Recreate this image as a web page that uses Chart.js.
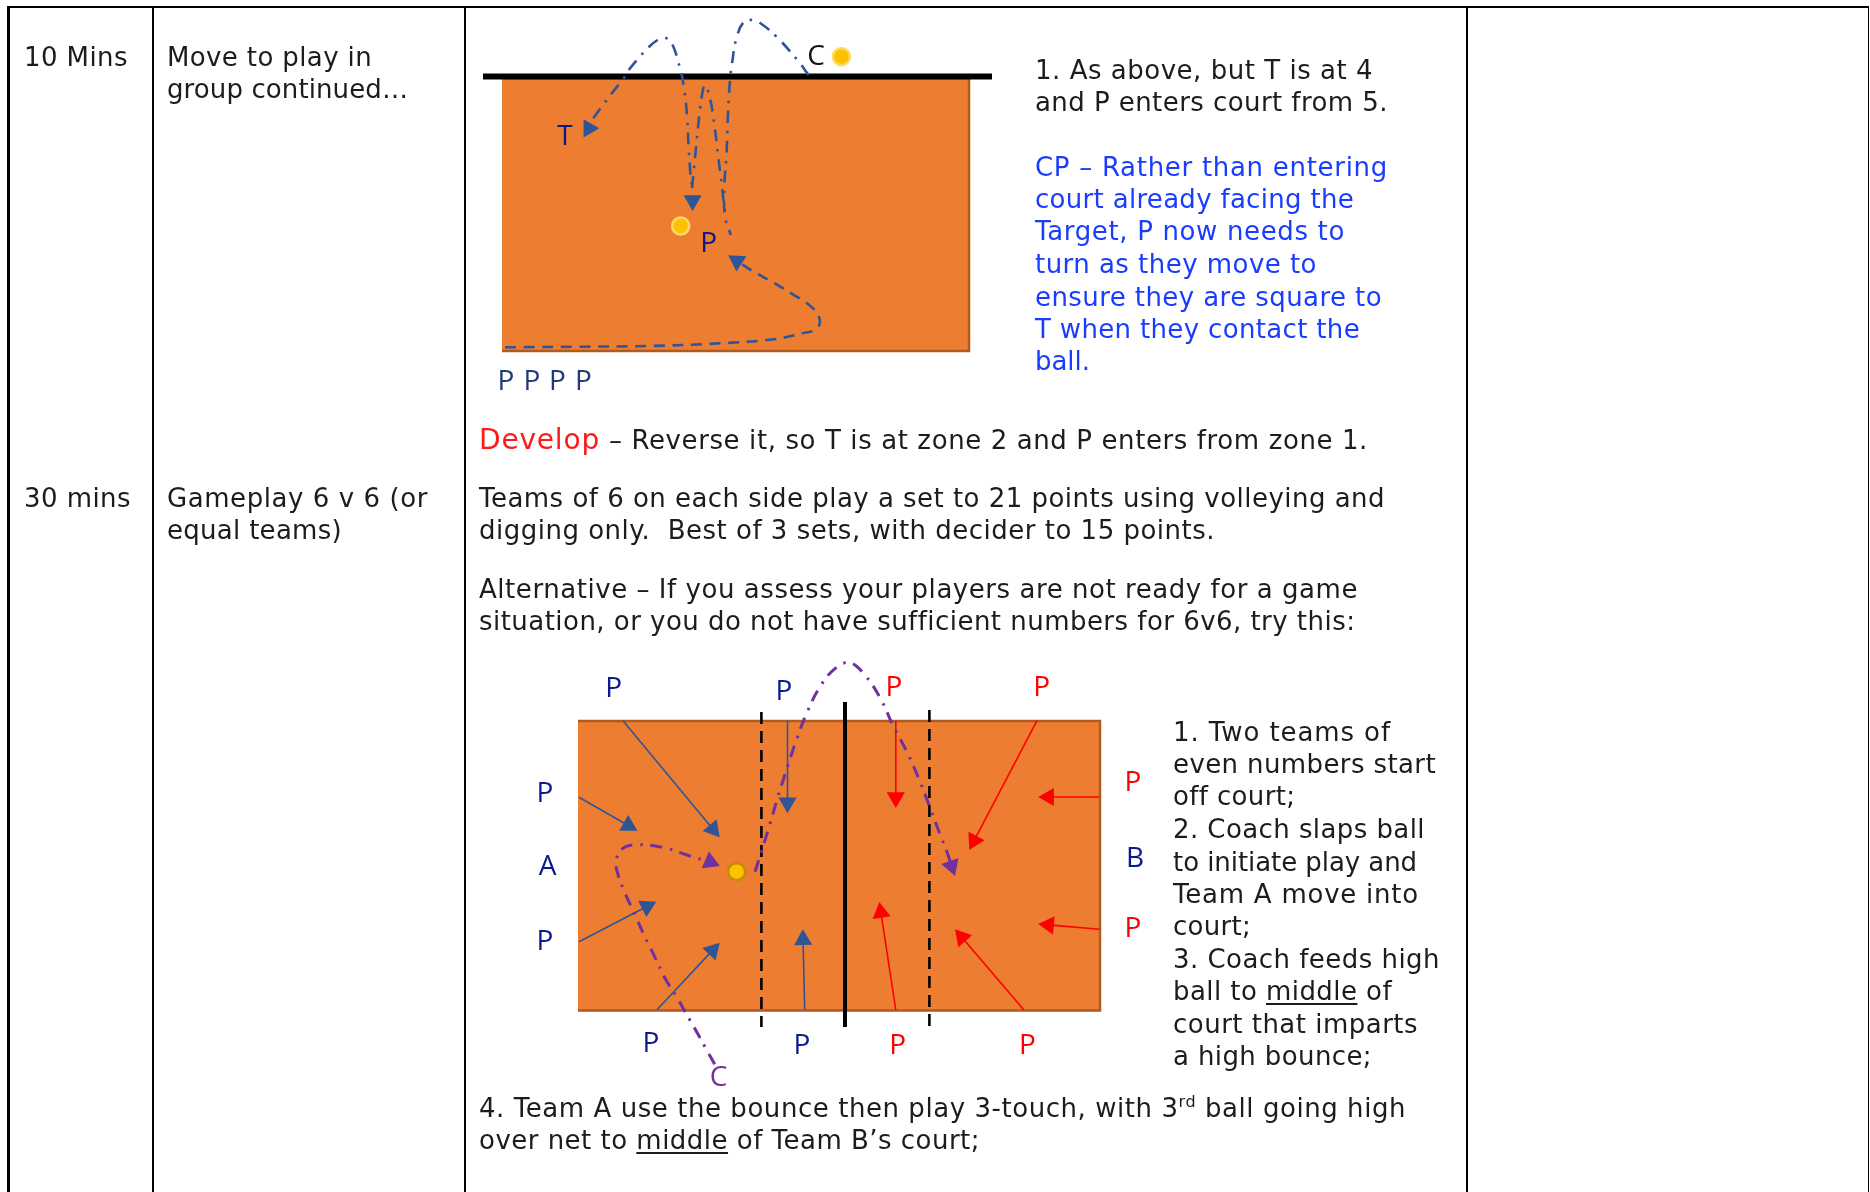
<!DOCTYPE html>
<html>
<head>
<meta charset="utf-8">
<title>Move to play</title>
<script src="https://cdn.jsdelivr.net/npm/chart.js@4"></script>
<style>
  html, body { margin: 0; background: #fff; overflow: hidden; }
  #page { position: relative; width: 1870px; height: 1192px; }
  canvas { position: absolute; left: 0; top: 0; }
  .t { position: absolute; font: 26px/32px "DejaVu Sans", Verdana, sans-serif; color: #1c1c1c; white-space: pre; }
  .cp { color: #1a3cff; }
  .red { color: #ff1a1a; font-size: 28px; }
  .rule { position: absolute; background: #000; }
  u { text-underline-offset: 3px; }
  sup { font-size: 16px; line-height: 0; }
</style>
</head>
<body>
<div id="page">
  <canvas id="court" width="1870" height="1192"></canvas>

  <div class="rule" style="left:7px;top:6px;width:1862px;height:2px"></div>
  <div class="rule" style="left:7px;top:6px;width:3px;height:1186px"></div>
  <div class="rule" style="left:152px;top:6px;width:2px;height:1186px"></div>
  <div class="rule" style="left:464px;top:6px;width:2px;height:1186px"></div>
  <div class="rule" style="left:1466px;top:6px;width:2px;height:1186px"></div>
  <div class="rule" style="left:1868px;top:6px;width:1px;height:1186px"></div>

  <div class="t" data-right="128" style="left:24px;top:41px">10 Mins</div>
  <div class="t" data-right="372" style="left:167px;top:41px">Move to play in</div>
  <div class="t" data-right="408" style="left:167px;top:73px">group continued…</div>

  <div class="t" data-right="1373" style="left:1035px;top:54px">1. As above, but T is at 4</div>
  <div class="t" data-right="1388" style="left:1035px;top:86px">and P enters court from 5.</div>
  <div class="t cp" data-right="1388" style="left:1035px;top:151px">CP – Rather than entering</div>
  <div class="t cp" data-right="1354" style="left:1035px;top:183px">court already facing the</div>
  <div class="t cp" data-right="1345" style="left:1035px;top:215px">Target, P now needs to</div>
  <div class="t cp" data-right="1317" style="left:1035px;top:248px">turn as they move to</div>
  <div class="t cp" data-right="1382" style="left:1035px;top:281px">ensure they are square to</div>
  <div class="t cp" data-right="1360" style="left:1035px;top:313px">T when they contact the</div>
  <div class="t cp" data-right="1090" style="left:1035px;top:345px">ball.</div>

  <div class="t red" data-right="600" style="left:479px;top:424px">Develop</div>
  <div class="t" data-right="1368" style="left:609px;top:424px">– Reverse it, so T is at zone 2 and P enters from zone 1.</div>

  <div class="t" data-right="131" style="left:24px;top:482px">30 mins</div>
  <div class="t" data-right="428" style="left:167px;top:482px">Gameplay 6 v 6 (or</div>
  <div class="t" data-right="342" style="left:167px;top:514px">equal teams)</div>

  <div class="t" data-right="1385" style="left:479px;top:482px">Teams of 6 on each side play a set to 21 points using volleying and</div>
  <div class="t" data-right="1215" style="left:479px;top:514px">digging only.  Best of 3 sets, with decider to 15 points.</div>
  <div class="t" data-right="1358" style="left:479px;top:573px">Alternative – If you assess your players are not ready for a game</div>
  <div class="t" data-right="1355" style="left:479px;top:605px">situation, or you do not have sufficient numbers for 6v6, try this:</div>

  <div class="t" data-right="1391" style="left:1173px;top:716px">1. Two teams of</div>
  <div class="t" data-right="1436" style="left:1173px;top:748px">even numbers start</div>
  <div class="t" data-right="1295" style="left:1173px;top:780px">off court;</div>
  <div class="t" data-right="1425" style="left:1173px;top:813px">2. Coach slaps ball</div>
  <div class="t" data-right="1417" style="left:1173px;top:846px">to initiate play and</div>
  <div class="t" data-right="1419" style="left:1173px;top:878px">Team A move into</div>
  <div class="t" data-right="1251" style="left:1173px;top:910px">court;</div>
  <div class="t" data-right="1440" style="left:1173px;top:943px">3. Coach feeds high</div>
  <div class="t" data-right="1392" style="left:1173px;top:975px">ball to <u>middle</u> of</div>
  <div class="t" data-right="1418" style="left:1173px;top:1008px">court that imparts</div>
  <div class="t" data-right="1372" style="left:1173px;top:1040px">a high bounce;</div>

  <div class="t" data-right="1406" style="left:479px;top:1092px">4. Team A use the bounce then play 3-touch, with 3<sup>rd</sup> ball going high</div>
  <div class="t" data-right="980" style="left:479px;top:1124px">over net to <u>middle</u> of Team B’s court;</div>
</div>

<script>
// upper court: outline, net, ball paths, all in page pixels
const courtOne = [[502, 78], [969, 78], [969, 351], [502, 351]];
const netOne = [[483, 76.5], [992, 76.5]];
const pathToCoach = [[808.6, 75], [796.8, 59.3], [777.1, 37.3], [762.9, 25], [752.9, 20], [743.2, 22.7], [736, 40], [732.5, 60], [730, 80], [727.9, 116.7], [726.4, 156.7], [724.3, 186.7], [725, 216], [730.7, 235]];
const pathToTarget = [[593.2, 118.3], [611, 94.3], [623.6, 78.3], [628.2, 70.7], [647.5, 48.3], [657.5, 40], [664.6, 37.7], [671.8, 43.3], [680.7, 71], [684.3, 90], [687.1, 116.7], [688.6, 146.7], [690.4, 173.3], [692, 188]];
const pathLoop = [[692, 188], [695, 158.3], [697.9, 128.3], [701.4, 99], [705, 85], [710, 98.3], [714.6, 126.7], [718.2, 156.7], [721.8, 185], [725, 216]];
const pathPlayer = [[505, 347.3], [577.1, 346.7], [648.6, 346], [720, 343.3], [773.6, 339.3], [802.1, 333.3], [814.6, 330], [820, 321.7], [812.9, 308.3], [791.4, 293.3], [773.6, 282.7], [752.1, 270.7], [737, 261]];
const headsOne = [[588.8, 128.3, 90], [692.6, 200.6, 180], [737, 261, -57]];
const ballsOne = [[680.7, 226], [841.4, 56.7]];

// lower court
const courtTwo = [[578, 721], [1100, 721], [1100, 1010.5], [578, 1010.5]];
const netTwo = [[845, 702], [845, 1027]];
const attackLine1 = [[761.4, 712], [761.4, 1027]];
const attackLine2 = [[929.4, 710], [929.4, 1027]];
const blueArrows = [
  [[623, 720.7], [719.7, 837.3]],
  [[579, 797.3], [637.4, 830.7]],
  [[579, 941.7], [656.2, 901.7]],
  [[657, 1009.7], [719.7, 942.7]],
  [[787.5, 720.7], [787.5, 813.3]],
  [[804.7, 1009.7], [802.8, 929.3]]
];
const redArrows = [
  [[895.8, 720.7], [895.8, 808]],
  [[1037, 720.7], [969.2, 850]],
  [[1099.4, 797], [1038.1, 797]],
  [[1099.4, 929.3], [1038.1, 924]],
  [[1024, 1010], [955, 929.3]],
  [[895.8, 1010], [879.3, 902]]
];
const serveIn = [[714.7, 1064.3], [705.2, 1047.3], [695.6, 1030], [686, 1013.3], [676.5, 996.7], [665, 978.3], [654.7, 956.7], [644, 935], [634.4, 913.3], [624, 890.7], [617.2, 871.7], [616, 861.7], [621, 850], [632.5, 845], [662.3, 847.3], [689.9, 856], [710, 862]];
const serveOver = [[755, 871.7], [761.4, 851.7], [770.2, 823.3], [777.9, 796.7], [787.5, 766.7], [797, 738.3], [806.6, 713.3], [820, 686.7], [835.3, 668.3], [849.5, 662.7], [864, 674], [880.4, 698.3], [892.7, 725], [906, 750], [918.7, 778.3], [929, 805], [939.4, 832.7], [947.4, 853.3], [951.6, 866]];
const headsTwo = [[710.2, 862, 113], [951.6, 866, 161]];
const ballsTwo = [[736.6, 871.7]];

// court labels: text, x, y
const navyLabels = [['T', 565, 137], ['P', 708.6, 244], ['P', 613.7, 689], ['P', 784, 691.7], ['P', 545, 794.3], ['A', 547.5, 866.7], ['P', 545, 942.3], ['P', 650.8, 1044.3], ['P', 802, 1045.7], ['B', 1135, 858.6]];
const slateLabels = [['P', 506, 382.5], ['P', 532, 382.5], ['P', 557.5, 382.5], ['P', 583.5, 382.5]];
const redLabels = [['P', 893.8, 688.3], ['P', 1041.6, 688.3], ['P', 897.7, 1045.7], ['P', 1027.4, 1045.7], ['P', 1133, 783.5], ['P', 1133, 929]];
const coachLabels = [['C', 816, 57]];
const purpleLabels = [['C', 718.6, 1078.3]];

const BLUE = '#2f5597', PURPLE = '#7030a0', RED = '#ff0000', ORANGE = '#ed7d31', EDGE = '#ae5a21';
const HEAD_R = 10.5;

const toXY = (pts) => pts.map(p => ({ x: p[0], y: p[1] }));

function shape(pts) {
  return { data: toXY(pts), showLine: true, pointRadius: 0, fill: 'shape', backgroundColor: ORANGE, borderColor: EDGE, borderWidth: 2.5 };
}
function rule(pts, width, dash) {
  return { data: toXY(pts), showLine: true, pointRadius: 0, borderColor: '#000', borderWidth: width, borderDash: dash || [] };
}
function curve(pts, color, width, dash) {
  return { data: toXY(pts), showLine: true, tension: 0.4, pointRadius: 0, borderColor: color, borderWidth: width, borderDash: dash };
}
function heads(list, color) {
  return {
    data: toXY(list), showLine: false, pointStyle: 'triangle', pointRadius: HEAD_R, pointBorderWidth: 0,
    pointBackgroundColor: color, pointBorderColor: color, pointRotation: list.map(h => h[2])
  };
}
function balls(list, edge) {
  return {
    data: toXY(list), showLine: false, pointStyle: 'circle', pointRadius: 8.5, pointBorderWidth: 2.5,
    pointBackgroundColor: '#ffc000', pointBorderColor: edge
  };
}
// straight arrow: line from tail to head centre, head turned along the line
function arrow(a, color) {
  const dx = a[1][0] - a[0][0], dy = a[1][1] - a[0][1], len = Math.hypot(dx, dy);
  const cx = a[1][0] - dx / len * HEAD_R, cy = a[1][1] - dy / len * HEAD_R;
  const angle = Math.atan2(dx, -dy) * 180 / Math.PI;
  return {
    data: toXY([a[0], [cx, cy]]), showLine: true, borderColor: color, borderWidth: 1.6,
    pointStyle: 'triangle', pointRadius: [0, HEAD_R], pointBorderWidth: 0,
    pointBackgroundColor: color, pointBorderColor: color, pointRotation: [0, angle]
  };
}

const dashDot = [12, 8, 2.5, 7.5];

const datasets = [
  shape(courtOne),
  rule(netOne, 6),
  curve(pathToCoach, BLUE, 2.6, dashDot),
  curve(pathToTarget, BLUE, 2.6, dashDot),
  curve(pathLoop, BLUE, 2.6, dashDot),
  curve(pathPlayer, BLUE, 2.6, [11, 7.6]),
  heads(headsOne, BLUE),
  balls(ballsOne, '#ffd966'),

  shape(courtTwo),
  ...blueArrows.map(a => arrow(a, BLUE)),
  ...redArrows.map(a => arrow(a, RED)),
  rule(attackLine1, 2.6, [12, 7]),
  rule(attackLine2, 2.6, [12, 7]),
  rule(netTwo, 4),
  curve(serveIn, PURPLE, 3, dashDot),
  curve(serveOver, PURPLE, 3, dashDot),
  heads(headsTwo, PURPLE),
  balls(ballsTwo, '#bf9000')
];
// chart.js paints the highest order first, keep list order as paint order
datasets.forEach((d, i) => { d.order = datasets.length - i; d.clip = false; });

const courtLabels = {
  id: 'courtLabels',
  afterDatasetsDraw(chart) {
    const { ctx, scales } = chart;
    const groups = [[navyLabels, '#0a1a8c'], [slateLabels, '#1f3b7a'], [redLabels, '#ff0000'], [coachLabels, '#111'], [purpleLabels, PURPLE]];
    ctx.save();
    ctx.font = '28px "Open Sans"';
    ctx.textAlign = 'center';
    ctx.textBaseline = 'middle';
    groups.forEach(([list, color]) => {
      ctx.fillStyle = color;
      list.forEach(l => ctx.fillText(l[0], scales.x.getPixelForValue(l[1]), scales.y.getPixelForValue(l[2])));
    });
    ctx.restore();
  }
};

new Chart(document.getElementById('court'), {
  type: 'scatter',
  data: { datasets },
  plugins: [courtLabels],
  options: {
    responsive: false,
    animation: false,
    events: [],
    layout: { padding: 0, autoPadding: false },
    plugins: { legend: { display: false }, tooltip: { enabled: false } },
    scales: {
      x: { type: 'linear', min: 0, max: 1870, display: false },
      y: { type: 'linear', min: 0, max: 1192, reverse: true, display: false }
    }
  }
});

// Verdana is a touch wider than DejaVu, stretch each line to its measured right edge
document.querySelectorAll('.t').forEach(el => {
  const box = el.getBoundingClientRect();
  const gap = (Number(el.dataset.right) - box.right) / el.textContent.length;
  el.style.letterSpacing = gap.toFixed(3) + 'px';
});
</script>
</body>
</html>
